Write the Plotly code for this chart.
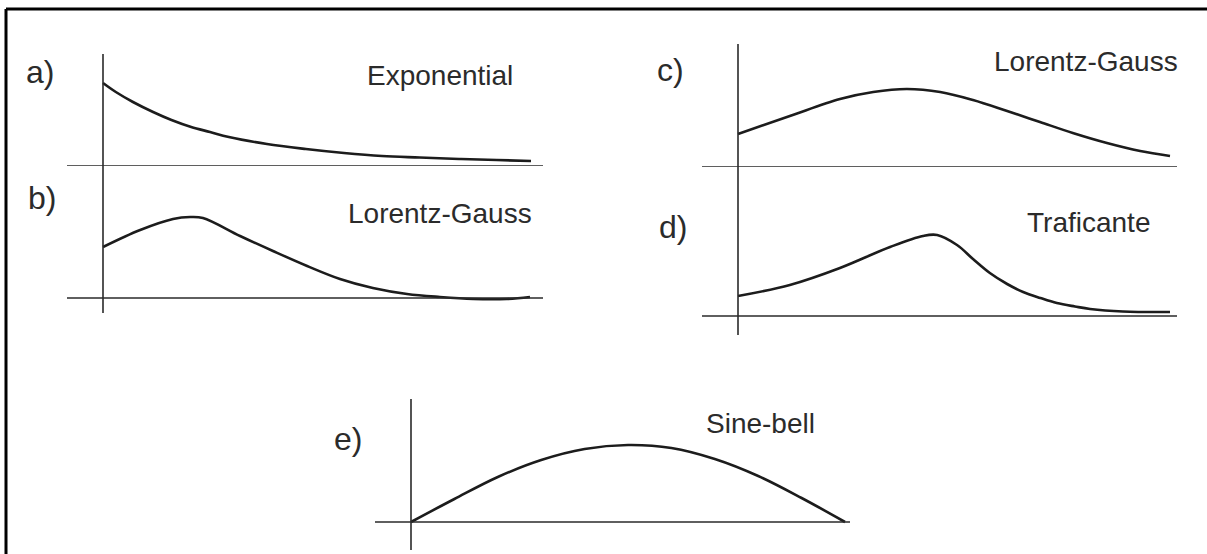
import plotly.graph_objects as go

# Window size of the picture (px)
W, H = 1207, 554

# --- data: time as fraction of the acquisition, amplitude in relative units ---
exp_t = [0, 0.03, 0.07, 0.117, 0.16, 0.206, 0.25, 0.294, 0.383, 0.474, 0.563, 0.652, 0.74, 0.832, 0.92, 1.0]
exp_amp = [0.83, 0.74, 0.64, 0.54, 0.46, 0.39, 0.34, 0.29, 0.22, 0.17, 0.13, 0.10, 0.085, 0.07, 0.06, 0.05]

lg1_t = [0, 0.087, 0.164, 0.204, 0.234, 0.321, 0.398, 0.478, 0.555, 0.632, 0.712, 0.789, 0.867, 0.946, 1.0]
lg1_amp = [0.51, 0.68, 0.79, 0.81, 0.80, 0.62, 0.47, 0.32, 0.19, 0.10, 0.04, 0.01, -0.01, -0.01, 0.01]

lg2_t = [0, 0.120, 0.236, 0.313, 0.391, 0.468, 0.544, 0.623, 0.699, 0.775, 0.854, 0.931, 1.0]
lg2_amp = [0.33, 0.51, 0.68, 0.75, 0.78, 0.75, 0.67, 0.56, 0.45, 0.34, 0.24, 0.16, 0.11]

traf_t = [0, 0.120, 0.236, 0.352, 0.428, 0.461, 0.507, 0.544, 0.583, 0.623, 0.660, 0.70, 0.738, 0.78, 0.815, 0.891, 1.0]
traf_amp = [0.20, 0.31, 0.48, 0.69, 0.80, 0.81, 0.71, 0.57, 0.43, 0.32, 0.24, 0.18, 0.13, 0.095, 0.07, 0.045, 0.04]

sine_t = [0, 0.1, 0.2, 0.3, 0.4, 0.5, 0.6, 0.7, 0.8, 0.9, 1.0]
sine_amp = [0, 0.23, 0.45, 0.62, 0.73, 0.77, 0.74, 0.63, 0.46, 0.24, 0]

panel_letters = ["a)", "b)", "c)", "d)", "e)"]
panel_names = ["Exponential", "Lorentz-Gauss", "Lorentz-Gauss", "Traficante", "Sine-bell"]

# --- layout of each panel in pixels ---
# origin (ox, oy), horizontal axis span, vertical axis span, curve length, label pos, name pos
panels = [
    dict(t=exp_t, a=exp_amp, ox=103, oy=166, hx=(67, 543), vy=(54, 166), L=428,
         lab=(40, 72), name=(440, 75)),
    dict(t=lg1_t, a=lg1_amp, ox=103, oy=298, hx=(67, 543), vy=(166, 313), L=427,
         lab=(42, 198), name=(440, 214)),
    dict(t=lg2_t, a=lg2_amp, ox=738, oy=167, hx=(702, 1177), vy=(44, 167), L=432,
         lab=(670, 70), name=(1086, 61)),
    dict(t=traf_t, a=traf_amp, ox=738, oy=316, hx=(702, 1177), vy=(167, 335), L=432,
         lab=(673, 227), name=(1088, 223)),
    dict(t=sine_t, a=sine_amp, ox=411, oy=522, hx=(375, 850), vy=(399, 550), L=434,
         lab=(348, 439), name=(760, 423)),
]

AMP_PX = 100  # pixels per amplitude unit
CURVE = "#1c1c1c"
AXIS = "#2a2a2a"
FONT = "Liberation Sans, Arial, Helvetica, sans-serif"

fig = go.Figure()
shapes = []
annotations = []
layout_axes = {}

for i, p in enumerate(panels, start=1):
    xs = "" if i == 1 else str(i)
    xname, yname = f"x{xs}", f"y{xs}"

    fig.add_trace(go.Scatter(
        x=p["t"], y=p["a"], mode="lines", line_shape="spline",
        line=dict(color=CURVE, width=2.6), xaxis=xname, yaxis=yname,
        hoverinfo="skip", showlegend=False,
    ))

    x0, x1 = p["hx"]
    top, bot = p["vy"]
    layout_axes[f"xaxis{xs}"] = dict(
        domain=[x0 / W, x1 / W],
        range=[(x0 - p["ox"]) / p["L"], (x1 - p["ox"]) / p["L"]],
        visible=False, anchor=yname,
    )
    layout_axes[f"yaxis{xs}"] = dict(
        domain=[1 - bot / H, 1 - top / H],
        range=[(p["oy"] - bot) / AMP_PX, (p["oy"] - top) / AMP_PX],
        visible=False, anchor=xname,
    )

    # axis lines through the origin
    shapes.append(dict(type="line", xref=xname, yref=f"{yname} domain",
                       x0=0, x1=0, y0=0, y1=1, line=dict(color=AXIS, width=1.6)))
    shapes.append(dict(type="line", xref=f"{xname} domain", yref=yname,
                       x0=0, x1=1, y0=0, y1=0, line=dict(color=AXIS, width=1.6)))

    lx, ly = p["lab"]
    annotations.append(dict(text=panel_letters[i - 1], x=lx / W, y=1 - ly / H,
                            xref="paper", yref="paper", showarrow=False,
                            xanchor="center", yanchor="middle",
                            font=dict(family=FONT, size=32, color="#2b2b2b")))
    nx, ny = p["name"]
    annotations.append(dict(text=panel_names[i - 1], x=nx / W, y=1 - ny / H,
                            xref="paper", yref="paper", showarrow=False,
                            xanchor="center", yanchor="middle",
                            font=dict(family=FONT, size=28, color="#2b2b2b")))

# outer frame: only its top and left edges fall inside the picture
frame_x, frame_y = 6 / W, 1 - 9 / H
shapes.append(dict(type="line", xref="paper", yref="paper",
                   x0=frame_x, x1=1, y0=frame_y, y1=frame_y,
                   line=dict(color="black", width=3)))
shapes.append(dict(type="line", xref="paper", yref="paper",
                   x0=frame_x, x1=frame_x, y0=0, y1=frame_y,
                   line=dict(color="black", width=3)))

fig.update_layout(
    width=W, height=H, autosize=False,
    margin=dict(l=0, r=0, t=0, b=0),
    paper_bgcolor="white", plot_bgcolor="rgba(0,0,0,0)",
    showlegend=False, shapes=shapes, annotations=annotations,
    **layout_axes,
)

# drop the browser's default body margin and scrollbars so the figure sits at the window corner
fig.write_html(
    "out.html", config={"displayModeBar": False},
    post_script="document.body.style.margin='0';"
                "document.documentElement.style.overflow='hidden';"
                "document.body.style.overflow='hidden';",
)
